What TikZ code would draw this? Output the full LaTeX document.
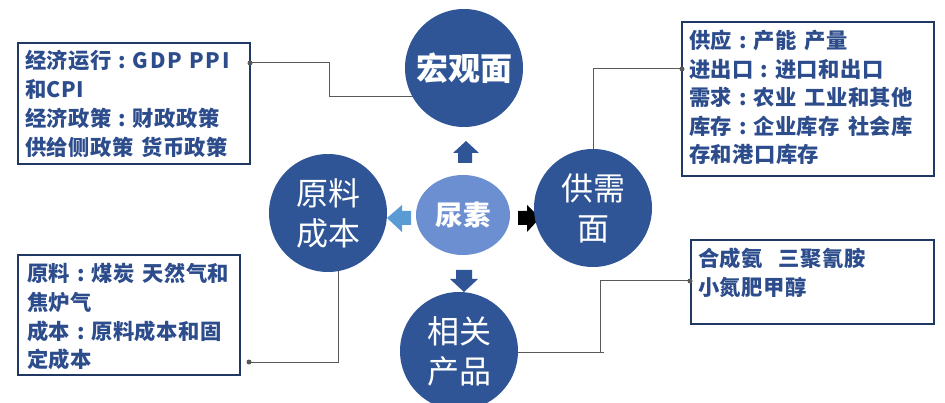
\documentclass[tikz,border=0pt]{standalone}
\usepackage{fontspec}
\newfontfamily\cjk{Noto Sans CJK SC}
\newfontfamily\cjkbox[LetterSpace=2]{Noto Sans CJK SC}
\usetikzlibrary{shapes.geometric,calc}
\definecolor{circ}{HTML}{2F5597}
\definecolor{cent}{HTML}{6B8FD0}
\definecolor{larrow}{HTML}{5B9BD5}
\definecolor{boxline}{HTML}{203864}
\definecolor{boxtxt}{HTML}{2C4C8C}
\definecolor{conn}{HTML}{595959}
\newcommand\fwc{\makebox[1em][c]{:}}
\newcommand\wsp{\hspace{0.38em}}
\newcommand\lk{\kern1.5pt}
\pgfdeclarelayer{background}
\pgfsetlayers{background,main}
\tikzset{
  bigc/.style={circle, fill=circ, minimum size=118pt, inner sep=0pt, outer sep=0pt,
    text=white, align=center, font=\cjk\fontsize{32}{40}\selectfont},
  infobox/.style={draw=boxline, line width=1.8pt, anchor=north west, inner sep=0pt, outer sep=0pt},
  boxtext/.style={anchor=north west, inner sep=0pt, text=boxtxt, align=left},
  connline/.style={draw=conn, line width=1pt},
  enddot/.style={fill=conn},
}
\begin{document}
\begin{tikzpicture}[x=1pt,y=-1pt]
\useasboundingbox (0,0) rectangle (945,403);

% circles
\node[bigc, font=\cjk\bfseries\fontsize{32}{36}\selectfont] (macro) at (464,68) {宏观面};
\node[bigc] (cost) at (328,213) {原料\\成本};
\node[bigc] (supply) at (593,208) {供需\\面};
\node[bigc] (product) at (459,351) {相关\\产品};
\node[ellipse, fill=cent, minimum width=94pt, minimum height=80pt, inner sep=0pt,
  text=white, font=\cjk\bfseries\fontsize{27.5}{30}\selectfont] (center) at (463,215) {尿素};

% boxes
\node[infobox, minimum width=232pt, minimum height=121pt] (b1) at (18,43) {};
\node[infobox, minimum width=252pt, minimum height=154pt] (b2) at (682,22) {};
\node[infobox, minimum width=222pt, minimum height=120pt] (b3) at (18,255) {};
\node[infobox, minimum width=243pt, minimum height=84pt] (b4) at (691,240) {};

\node[boxtext, font=\cjkbox\bfseries\fontsize{21.3}{29}\selectfont] (t1) at (25,50)
  {经济运行\fwc G\lk D\lk P\wsp P\lk P\lk I\\和CPI\\经济政策\fwc 财政政策\\供给侧政策\wsp 货币政策};
\node[boxtext, font=\cjkbox\bfseries\fontsize{21.3}{28.5}\selectfont] (t2) at (689,30)
  {供应\fwc 产能\wsp 产量\\进出口\fwc 进口和出口\\需求\fwc 农业\wsp 工业和其他\\库存\fwc 企业库存\wsp 社会库\\存和港口库存};
\node[boxtext, font=\cjkbox\bfseries\fontsize{21.3}{28.7}\selectfont] (t3) at (27,263)
  {原料\fwc 煤炭\wsp 天然气和\\焦炉气\\成本\fwc 原料成本和固\\定成本};
\node[boxtext, font=\cjkbox\bfseries\fontsize{21.3}{29}\selectfont] (t4) at (698,248)
  {合成氨\hspace{0.75em}三聚氰胺\\小氮肥甲醇};

% connector points
\coordinate (d1) at (250,63);
\coordinate (k1) at (329,97);
\coordinate (d2) at (682,69);
\coordinate (d3) at (249,362);
\coordinate (k3) at (338,362);
\coordinate (d4) at (690,281);
\coordinate (k4) at (600,352);

\begin{pgfonlayer}{background}
  % connectors
  \draw[connline] (d1) -| (k1) -- (k1 -| macro);
  \draw[connline] (d2) -| (supply);
  \draw[connline] (d3) -- (k3) -- (k3 |- cost);
  \draw[connline] (d4) -| ($(k4)+(0,1)$);
  \draw[connline] ($(k4)+(4,0)$) -- (k4 -| product);
  % block arrows
  \fill[circ] (458,163) -- (458,153) -- (453,153) -- (466,141) -- (479,153) -- (472,153) -- (472,163) -- cycle;
  \fill[larrow] (411,211) -- (402,211) -- (402,205) -- (387,218) -- (402,232) -- (402,225) -- (411,225) -- cycle;
  \fill[black] (518,211) -- (527,211) -- (527,205) -- (540,218) -- (527,232) -- (527,225) -- (518,225) -- cycle;
  \fill[circ] (456,270) -- (472,270) -- (472,279) -- (478,279) -- (464,292) -- (450,279) -- (456,279) -- cycle;
\end{pgfonlayer}

\fill[enddot] (d1) circle (2.5);
\fill[enddot] (d2) circle (2.5);
\fill[enddot] (d3) circle (2.5);
\fill[enddot] (d4) circle (2.5);
\end{tikzpicture}
\end{document}
